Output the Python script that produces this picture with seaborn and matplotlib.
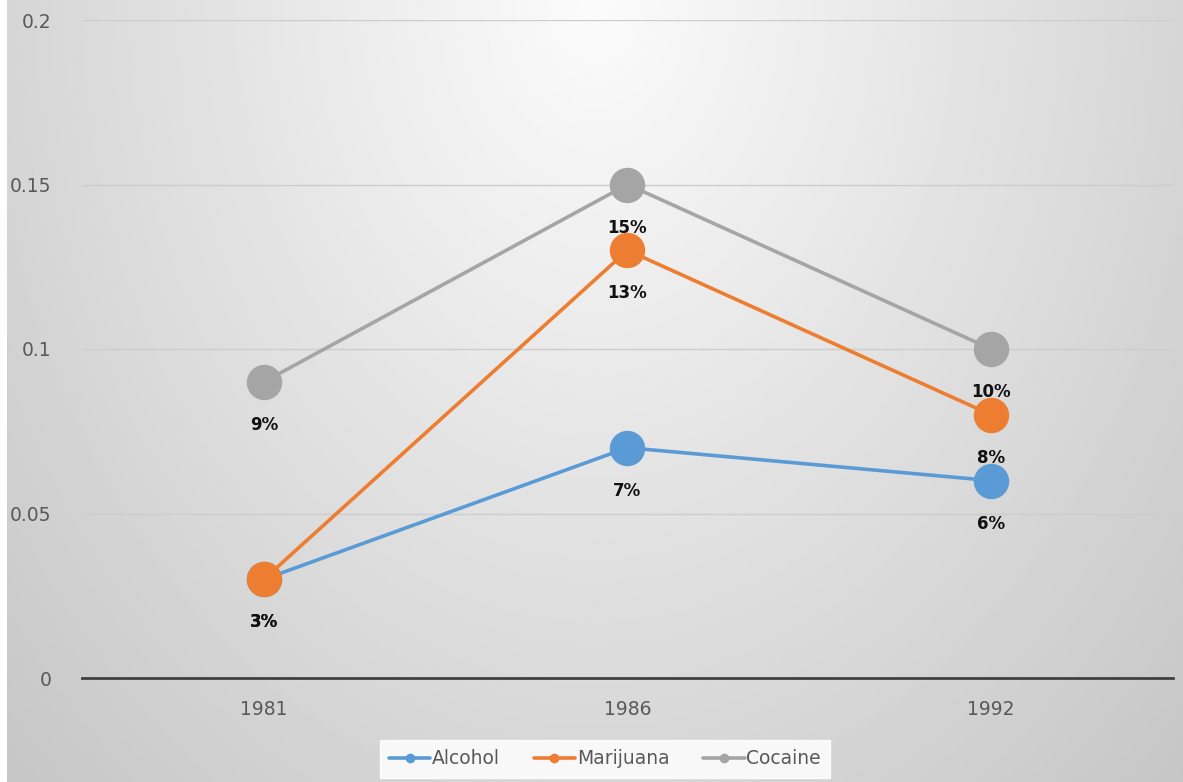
import numpy as np
import pandas as pd
import matplotlib
matplotlib.use("Agg")
import matplotlib.pyplot as plt
from matplotlib.lines import Line2D
import seaborn as sns

years = ["1981", "1986", "1992"]
alcohol = [0.03, 0.07, 0.06]
marijuana = [0.03, 0.13, 0.08]
cocaine = [0.09, 0.15, 0.10]
series_names = ["Alcohol", "Marijuana", "Cocaine"]
colors = ["#5B9BD5", "#ED7D31", "#A5A5A5"]
yticks = [0, 0.05, 0.1, 0.15, 0.2]
ytick_labels = ["0", "0.05", "0.1", "0.15", "0.2"]

df = pd.DataFrame({
    "year": years * 3,
    "value": alcohol + marijuana + cocaine,
    "series": sum([[n] * len(years) for n in series_names], []),
})

sns.set_theme(style="white")
plt.rcParams["font.family"] = ["DejaVu Sans"]

W, H = 1183, 782
fig = plt.figure(figsize=(W / 100, H / 100), dpi=100, facecolor="white")

# background gradient
bg = fig.add_axes([7 / W, 0, 1 - 7 / W, 1], zorder=-10)
gx = np.linspace(0, 1, 400)
gy = np.linspace(0, 1, 300)
X, Y = np.meshgrid(gx, gy)
r = np.sqrt(((X - 0.5) / 0.55) ** 2 + (Y / 1.1) ** 2) / np.sqrt(2)
val = np.clip(0.985 - 0.23 * r, 0, 1)
bg.imshow(val, cmap="gray", vmin=0, vmax=1, aspect="auto", extent=[0, 1, 1, 0])
bg.axis("off")

ax = fig.add_axes([82 / W, 1 - 678 / H, (1173 - 82) / W, (678 - 20) / H])
ax.patch.set_alpha(0)

for name, col in zip(series_names, colors):
    sub = df[df["series"] == name]
    sns.lineplot(data=sub, x="year", y="value", ax=ax, color=col, lw=2.6,
                 marker="o", markersize=25.5, markeredgewidth=0, legend=False,
                 sort=False, zorder=3)

# data labels
for name in series_names:
    sub = df[df["series"] == name]
    for i, (x, v) in enumerate(zip(sub["year"], sub["value"])):
        ax.annotate(f"{v * 100:.0f}%", (i, v), xytext=(0, -31), textcoords="offset points",
                    ha="center", va="center", fontsize=12, fontweight="bold",
                    color="#111111", zorder=5)

ax.set_xlim(-0.5, 2.5)
ax.set_ylim(0, 0.2)
ax.set_yticks(yticks)
ax.set_yticklabels(ytick_labels)
ax.set_xlabel("")
ax.set_ylabel("")
ax.grid(axis="y", color="#CDCDCD", lw=1)
ax.set_axisbelow(True)
for s in ["top", "right", "left"]:
    ax.spines[s].set_visible(False)
ax.spines["bottom"].set_color("#404040")
ax.spines["bottom"].set_linewidth(2)
ax.tick_params(axis="both", length=0, labelsize=13.5, colors="#595959")
ax.tick_params(axis="y", pad=22)
ax.tick_params(axis="x", pad=16)

handles = [Line2D([0], [0], color=c, lw=2.6, marker="o", markersize=7, markeredgewidth=0)
           for c in colors]
leg = fig.legend(handles, series_names, loc="center", bbox_to_anchor=(605 / W, 1 - 759 / H),
                 ncol=3, frameon=True, fontsize=13.5, handlelength=2.2, handletextpad=0.1,
                 columnspacing=1.8, borderpad=0.5, fancybox=False)
leg.get_frame().set_facecolor("white")
leg.get_frame().set_edgecolor("white")
leg.get_frame().set_alpha(0.85)
for t in leg.get_texts():
    t.set_color("#595959")

fig.savefig("out.png", dpi=100, facecolor="white")
